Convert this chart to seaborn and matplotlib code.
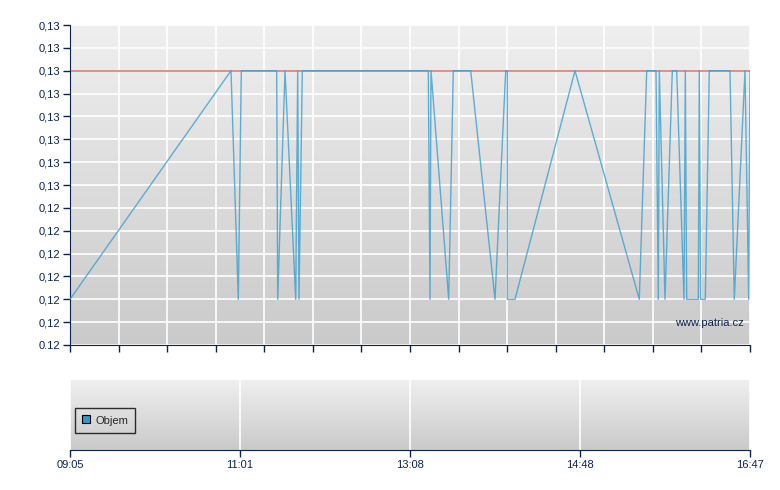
import numpy as np
import pandas as pd
import matplotlib
matplotlib.use("Agg")
import matplotlib.pyplot as plt
from matplotlib.lines import Line2D
from matplotlib.colors import LinearSegmentedColormap
import seaborn as sns

# ---- data ----
LOW, HIGH = 0.12, 0.13
pos = [0, 161, 168.3, 171.3, 206.7, 207.7, 215, 225.7, 227.7, 229, 232.3,
       358.3, 360, 361, 378.7, 383.3, 400.7, 425, 435.7, 437.3, 437.3, 445,
       505, 569.3, 576.7, 586, 588.3, 589.3, 595, 602.3, 606.7, 614, 615.3,
       616.7, 628.3, 629.3, 630.7, 635.3, 639.3, 660, 664.3, 675, 678.7, 680]
level = ['L', 'H', 'L', 'H', 'H', 'L', 'H', 'L', 'H', 'L', 'H',
         'H', 'L', 'H', 'L', 'H', 'H', 'L', 'H', 'H', 'L', 'L',
         'H', 'L', 'H', 'H', 'L', 'H', 'L', 'H', 'H', 'L', 'H',
         'L', 'L', 'H', 'L', 'L', 'H', 'H', 'L', 'H', 'L', 'H']
price = [HIGH if v == 'H' else LOW for v in level]
reference_price = [0.13]
y_tick_labels = ['0.12', '0,12', '0,12', '0,12', '0,12', '0,12', '0,12',
                 '0,13', '0,13', '0,13', '0,13', '0,13', '0,13', '0,13', '0,13']
x_tick_labels = ['09:05', '11:01', '13:08', '14:48', '16:47']
legend_label = 'Objem'
watermark = 'www.patria.cz'

# ---- styling ----
sns.set_style("white")
plt.rcParams['font.family'] = ['Liberation Sans', 'DejaVu Sans']
NAVY = '#0b2350'
fig = plt.figure(figsize=(7.8, 4.9), dpi=100)
W, H = 780, 490
ax = fig.add_axes([70 / W, 1 - 345 / H, 680 / W, 320 / H])
axv = fig.add_axes([70 / W, 1 - 450 / H, 680 / W, 70 / H])

cmap = LinearSegmentedColormap.from_list('bg', ['#cacaca', '#efefef'])
grad = np.linspace(0, 1, 256).reshape(-1, 1)
for a in (ax, axv):
    a.imshow(grad, extent=[0, 1, 0, 1], transform=a.transAxes, origin='lower',
             aspect='auto', cmap=cmap, zorder=-10)

df = pd.DataFrame({'pos': pos, 'price': price})
ax.axhline(reference_price[0], color='#e07a7a', lw=1.2, zorder=2)
sns.lineplot(data=df, x='pos', y='price', ax=ax, sort=False, estimator=None,
             color='#3a9fd0', alpha=0.8, lw=1.0, zorder=3)

ax.set_xlim(0, 680)
ax.set_ylim(0.118, 0.132)
ax.set_yticks(np.linspace(0.118, 0.132, len(y_tick_labels)))
ax.set_yticklabels(y_tick_labels)
ax.set_xticks(np.linspace(0, 680, 15))
ax.set_xticklabels([])
ax.grid(True, color='white', lw=1.2)
ax.set_axisbelow(True)
ax.set_xlabel('')
ax.set_ylabel('')

axv.set_xlim(0, 680)
axv.set_ylim(0, 1)
axv.set_xticks(np.linspace(0, 680, len(x_tick_labels)))
axv.set_xticklabels(x_tick_labels)
axv.set_yticks([])
axv.grid(True, axis='x', color='white', lw=1.2)
axv.set_axisbelow(True)

for a in (ax, axv):
    for s in ('top', 'right'):
        a.spines[s].set_visible(False)
    a.spines['bottom'].set_color(NAVY)
    a.spines['left'].set_color(NAVY)
    a.tick_params(axis='both', direction='out', length=5, width=1, color=NAVY,
                  labelcolor=NAVY, labelsize=8, pad=2, bottom=True, left=True)
axv.spines['left'].set_visible(False)

ax.text(0.991, 0.07, watermark, transform=ax.transAxes, ha='right', va='center',
        color=NAVY, fontsize=8)

handle = Line2D([], [], marker='s', markersize=6, markerfacecolor='#3399cc',
                markeredgecolor='black', markeredgewidth=0.8, linestyle='none')
leg = axv.legend([handle], [legend_label], loc='lower left',
                 bbox_to_anchor=(0.007, 0.243), fancybox=False, frameon=True,
                 fontsize=8, handlelength=0.8, handleheight=1.3,
                 handletextpad=0.5, borderpad=0.6, borderaxespad=0)
leg.get_frame().set_edgecolor('black')
leg.get_frame().set_facecolor('none')
leg.get_frame().set_linewidth(1)

fig.savefig('out.png', dpi=100)
